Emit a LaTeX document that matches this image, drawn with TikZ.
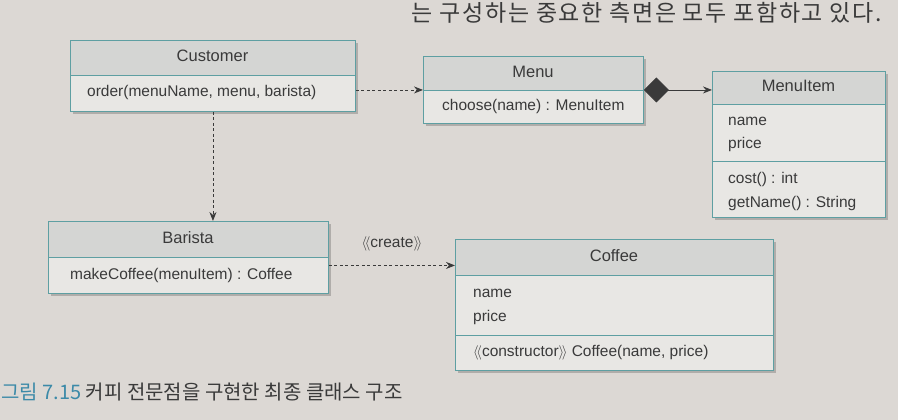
\documentclass[tikz,border=0pt]{standalone}
\usepackage{fontspec}
\setmainfont{Liberation Sans}
\newfontfamily\kr{Noto Sans CJK KR}
\newfontfamily\krwide{Noto Sans CJK KR}[LetterSpace=7]
\usetikzlibrary{arrows.meta,shadows,calc}
\definecolor{paper}{HTML}{DCD8D4}
\definecolor{bodyfill}{HTML}{E8E7E4}
\definecolor{hdrfill}{HTML}{D4D5D3}
\definecolor{edgecol}{HTML}{5E9FA2}
\definecolor{ink}{HTML}{3A3A3A}
\definecolor{capblue}{HTML}{3C8AA8}
\tikzset{
  cbox/.style={draw=edgecol, line width=0.9pt, fill=bodyfill, anchor=north west, inner sep=0pt,
    drop shadow={shadow xshift=2.5pt, shadow yshift=-3pt, opacity=0.3, fill=black!70}},
  hdr/.style={fill=hdrfill},
  edge/.style={draw=edgecol, line width=0.9pt},
  title/.style={text=ink, font=\fontsize{16.5}{18}\selectfont, inner sep=0pt, text height=12pt, text depth=3pt},
  member/.style={text=ink, font=\fontsize{15.5}{17}\selectfont, inner sep=0pt, anchor=west, text height=11.5pt, text depth=3.5pt},
  dep/.style={draw=ink, line width=0.8pt, dash pattern=on 3pt off 2.5pt, -{Stealth[length=9pt,width=7pt]}},
  comp/.style={draw=ink, line width=0.8pt, {Diamond[length=25pt,width=25pt]}-{Stealth[length=9pt,width=7pt]}}
}
\begin{document}
\begin{tikzpicture}[x=1pt,y=-1pt]
\useasboundingbox (0,0) rectangle (898,420);
\clip (0,0) rectangle (898,420);
\fill[paper] (0,0) rectangle (898,420);

% top text
\node[anchor=base east, inner sep=0pt, text=ink, font=\krwide\fontsize{23}{23}\selectfont] (toptext) at (882,22) {는 구성하는 중요한 측면은 모두 포함하고 있다.};

% Customer
\node[cbox, minimum width=285pt, minimum height=71pt] (cust) at (70,40) {};
\fill[hdr] (70,40) rectangle (355,75);
\draw[edge] (70,75) -- (355,75);
\draw[edge] (cust.north west) rectangle (cust.south east);
\node[title] (cust-t) at (212.5,57.5) {Customer};
\node[member] (cust-o) at (87,93) {order(menuName, menu, barista)};

% Menu
\node[cbox, minimum width=220pt, minimum height=67pt] (menu) at (423,56) {};
\fill[hdr] (423,56) rectangle (643,90);
\draw[edge] (423,90) -- (643,90);
\draw[edge] (menu.north west) rectangle (menu.south east);
\node[title] (menu-t) at (533,73) {Menu};
\node[member] (menu-o) at (442,106.5) {choose(name) : MenuItem};

% MenuItem
\node[cbox, minimum width=173pt, minimum height=146pt] (item) at (712,71) {};
\fill[hdr] (712,71) rectangle (885,104);
\draw[edge] (712,104) -- (885,104);
\draw[edge] (712,161) -- (885,161);
\draw[edge] (item.north west) rectangle (item.south east);
\node[title] (item-t) at (798.5,87.5) {MenuItem};
\node[member] (item-a1) at (728,121) {name};
\node[member] (item-a2) at (728,144) {price};
\node[member] (item-o1) at (728,179) {cost() : int};
\node[member] (item-o2) at (728,203) {getName() : String};

% Barista
\node[cbox, minimum width=280pt, minimum height=72pt] (bar) at (48,221) {};
\fill[hdr] (48,221) rectangle (328,257);
\draw[edge] (48,257) -- (328,257);
\draw[edge] (bar.north west) rectangle (bar.south east);
\node[title] (bar-t) at (188,239) {Barista};
\node[member] (bar-o) at (70,275) {makeCoffee(menuItem) : Coffee};

% Coffee
\node[cbox, minimum width=318pt, minimum height=131pt] (cof) at (455,239) {};
\fill[hdr] (455,239) rectangle (773,275);
\draw[edge] (455,275) -- (773,275);
\draw[edge] (455,335) -- (773,335);
\draw[edge] (cof.north west) rectangle (cof.south east);
\node[title] (cof-t) at (614,257) {Coffee};
\node[member] (cof-a1) at (473,293) {name};
\node[member] (cof-a2) at (473,317) {price};
\node[member] (cof-o1) at (473,352) {$\langle\!\langle$constructor$\rangle\!\rangle$ Coffee(name, price)};

% connectors
\draw[dep] (cust.east |- menu.west) -- (menu.west);
\draw[comp] (menu.east) -- (menu.east -| item.west);
\draw[dep] (cust.south) -- (cust.south |- bar.north);
\draw[dep] ([yshift=-8pt]bar.east) -- ([yshift=-8pt]bar.east -| cof.west);
\node[member, anchor=center] (create) at (392,243) {$\langle\!\langle$create$\rangle\!\rangle$};

% caption
\node[anchor=base west, inner sep=0pt, text=ink, font=\kr\fontsize{20}{20}\selectfont] (cap) at (1,399) {\textcolor{capblue}{그림 7.15} 커피 전문점을 구현한 최종 클래스 구조};
\end{tikzpicture}
\end{document}
